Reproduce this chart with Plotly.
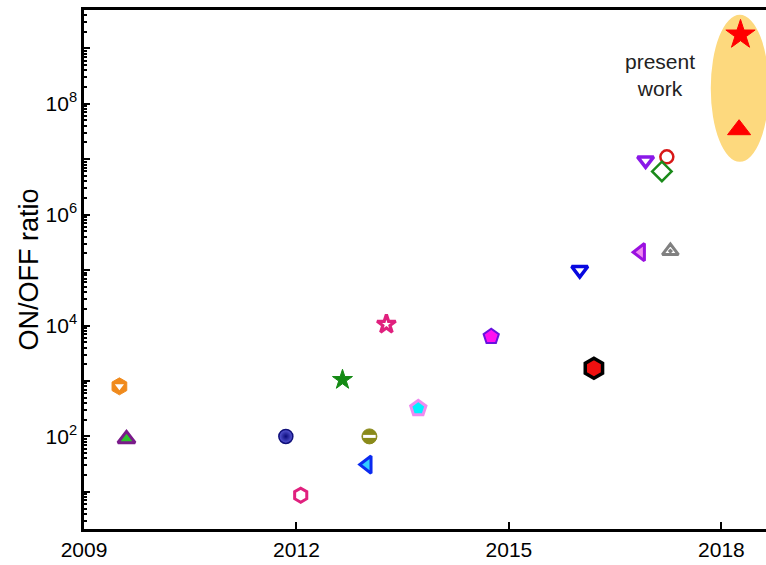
import plotly.graph_objects as go

# ---- data ----
years = [2009.5, 2009.6, 2011.85, 2012.06, 2012.65, 2013.27, 2013.03, 2013.0,
         2013.72, 2014.75, 2016.2, 2016.0, 2016.93, 2017.23, 2017.16, 2016.86, 2017.28]
ratios = [800, 90, 100, 8.7, 1050, 10500, 100, 31,
          320, 6300, 1700, 1.0e5, 9.5e6, 1.1e7, 6.0e6, 2.1e5, 2.2e5]

present_years = [2018.27, 2018.25]
present_ratios = [1.75e9, 3.4e7]

x_tickvals = [2009, 2012, 2015, 2018]
x_ticktext = ["2009", "2012", "2015", "2018"]
y_label_exponents = [2, 4, 6, 8]
y_unlabeled_exponents = [1, 3, 5, 7, 9]

# ---- marker styles (one per reference point) ----
styles = [
    dict(symbol="hexagon", size=17, color="#F08A1C", line=dict(color="#F08A1C", width=1)),
    dict(symbol="triangle-up", size=15, color="#2DC42D", line=dict(color="#7A1A8A", width=3)),
    dict(symbol="circle", size=14, color="#5A5AD8", line=dict(color="#10107A", width=1.5),
         gradient=dict(type="radial", color="#0A0A7A")),
    dict(symbol="hexagon", size=14, color="white", line=dict(color="#E0207E", width=3)),
    dict(symbol="star", size=15, color="#148A14", line=dict(color="#148A14", width=1)),
    dict(symbol="star", size=14, color="white", line=dict(color="#E0207E", width=3.2)),
    dict(symbol="circle", size=15, color="#8A8A1A", line=dict(color="#8A8A1A", width=1)),
    dict(symbol="triangle-left", size=15, color="#33CCFF", line=dict(color="#0A2AF0", width=3)),
    dict(symbol="pentagon", size=16, color="#00F0FF", line=dict(color="#F08AF0", width=3)),
    dict(symbol="pentagon", size=16, color="#FF10F0", line=dict(color="#6A10E0", width=2)),
    dict(symbol="hexagon", size=20, color="#F01010", line=dict(color="#000000", width=3.5)),
    dict(symbol="triangle-down", size=14, color="white", line=dict(color="#0808E0", width=3.5)),
    dict(symbol="triangle-down", size=14, color="white", line=dict(color="#8A18E8", width=3.5)),
    dict(symbol="circle", size=13, color="white", line=dict(color="#D81818", width=2.5)),
    dict(symbol="diamond", size=15, color="white", line=dict(color="#1A8A1A", width=2.5)),
    dict(symbol="triangle-left", size=15, color="#F08AF0", line=dict(color="#9A10E0", width=3)),
    dict(symbol="triangle-up-dot", size=14, color="white", line=dict(color="#808080", width=3)),
]

fig = go.Figure()

for i, (xv, yv) in enumerate(zip(years, ratios)):
    fig.add_trace(go.Scatter(x=[xv], y=[yv], mode="markers", marker=styles[i],
                             showlegend=False, hoverinfo="skip", cliponaxis=False))

# half-filled details
fig.add_trace(go.Scatter(x=[years[0]], y=[ratios[0]], mode="markers",
                         marker=dict(symbol="triangle-down", size=8, color="white",
                                     line=dict(width=0)),
                         showlegend=False, hoverinfo="skip"))
fig.add_trace(go.Scatter(x=[years[6]], y=[ratios[6]], mode="markers",
                         marker=dict(symbol="line-ew", size=9,
                                     line=dict(color="white", width=3)),
                         showlegend=False, hoverinfo="skip"))

# present work
fig.add_trace(go.Scatter(x=[present_years[0]], y=[present_ratios[0]], mode="markers",
                         marker=dict(symbol="star", size=22, color="#FF0000",
                                     line=dict(color="#FF0000", width=1)),
                         showlegend=False, hoverinfo="skip", cliponaxis=False))
fig.add_trace(go.Scatter(x=[present_years[1]], y=[present_ratios[1]], mode="markers",
                         marker=dict(symbol="triangle-up", size=20, color="#FF0000",
                                     line=dict(color="#FF0000", width=1)),
                         showlegend=False, hoverinfo="skip", cliponaxis=False))

# highlight ellipse derived from present-work data
cx = sum(present_years) / len(present_years)
fig.add_shape(type="circle", xref="x", yref="y", layer="below",
              x0=cx - 0.41, x1=cx + 0.41,
              y0=min(present_ratios) / 10 ** 0.58, y1=max(present_ratios) * 10 ** 0.36,
              fillcolor="#FDD97E", line=dict(width=0))

fig.add_annotation(text="present<br>work", xref="paper", yref="paper",
                   x=0.845, y=0.875, xanchor="center", yanchor="middle", showarrow=False,
                   font=dict(size=21, color="#222222", family="Liberation Sans, Arial"))

font = dict(family="Liberation Sans, Arial", size=21, color="black")

y_range = [0.33, 9.69]

fig.update_layout(
    width=766, height=565,
    margin=dict(l=84, r=0, t=10, b=36),
    plot_bgcolor="white", paper_bgcolor="white",
    font=font,
    xaxis=dict(range=[2009, 2018.63], tickmode="array", tickvals=x_tickvals,
               ticktext=x_ticktext, ticks="inside", ticklen=7, tickwidth=2,
               tickcolor="black", showline=True, linewidth=2.5, linecolor="black",
               mirror=True, showgrid=False, zeroline=False, tickfont=font),
    yaxis=dict(type="log", range=y_range, tickmode="array",
               tickvals=[10 ** e for e in y_label_exponents],
               ticktext=["10<sup>%d</sup>" % e for e in y_label_exponents],
               ticks="inside", ticklen=6, tickwidth=2, tickcolor="black",
               showline=True, linewidth=2.5, linecolor="black", mirror=False,
               showgrid=False, zeroline=False, tickfont=dict(size=21),
               title=dict(text="ON/OFF ratio", font=dict(size=27), standoff=0),
               minor=dict(tickmode="array",
                          tickvals=[k * 10 ** e for e in range(0, 10) for k in range(2, 10)],
                          ticks="inside", ticklen=3, tickwidth=1.5, tickcolor="black",
                          showgrid=False)),
    yaxis2=dict(type="log", range=y_range, overlaying="y", side="left",
                tickmode="array", tickvals=[10 ** e for e in y_unlabeled_exponents],
                showticklabels=False, ticks="inside", ticklen=6, tickwidth=2,
                tickcolor="black", showline=False, showgrid=False, zeroline=False),
)

# a trace on the overlay axis so its ticks are drawn
fig.add_trace(go.Scatter(x=[present_years[0]], y=[present_ratios[0]], mode="markers",
                         marker=dict(size=1, opacity=0), yaxis="y2",
                         showlegend=False, hoverinfo="skip"))

fig.write_html("out.html", config={"displayModeBar": False},
               post_script="document.body.style.margin='0';")
